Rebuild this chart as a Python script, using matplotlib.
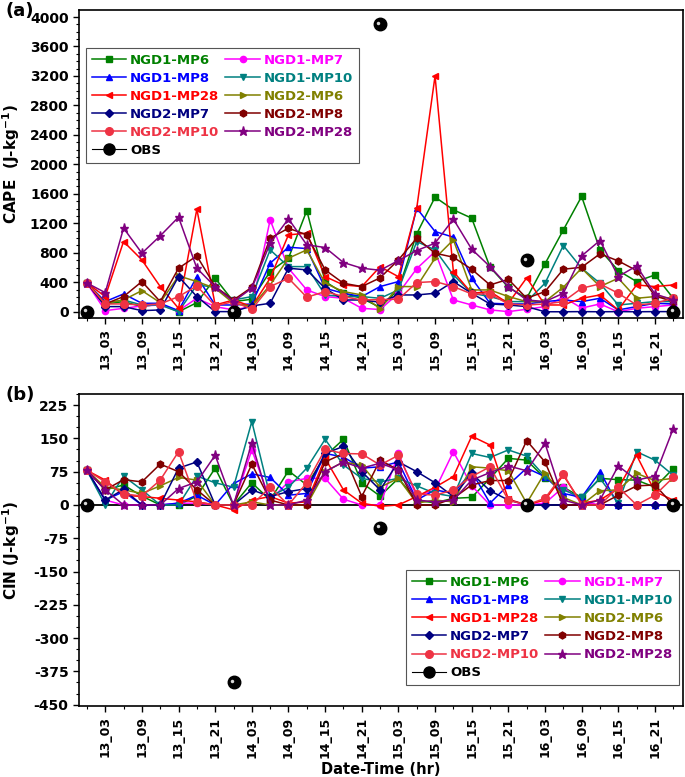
import numpy as np
import matplotlib
matplotlib.use('Agg')
import matplotlib.pyplot as plt
from matplotlib.lines import Line2D
from matplotlib.ticker import MultipleLocator
from matplotlib.transforms import offset_copy

plt.rcParams['font.family'] = 'DejaVu Sans'
plt.rcParams['font.weight'] = 'bold'
plt.rcParams['axes.unicode_minus'] = False
plt.rcParams['mathtext.default'] = 'bf'

# 3-hourly output, hours after 13_00
hours = np.arange(0, 97, 3)

names = ['NGD1-MP6', 'NGD1-MP7', 'NGD1-MP8', 'NGD1-MP10', 'NGD1-MP28',
         'NGD2-MP6', 'NGD2-MP7', 'NGD2-MP8', 'NGD2-MP10', 'NGD2-MP28']
colors = ['#008000', '#FF00FF', '#0000FF', '#008080', '#FF0000',
          '#808000', '#000080', '#800000', '#EE3344', '#800080']
markers = ['s', 'o', '^', 'v', '<', '>', 'D', 'h', 'o', '*']
msizes = [4.5, 4.5, 5, 5, 5, 5, 4, 5, 5.5, 6.5]

# CAPE (J/kg)
cape_ngd1_mp6 = [390, 106, 138, 70, 106, 0, 124, 455, 138, 170, 545, 727, 1374, 410, 251, 183, 60,
                 300, 1057, 1556, 1384, 1270, 604, 333, 183, 650, 1110, 1565, 840, 559, 410, 500, 183]
cape_ngd1_mp7 = [390, 15, 47, 79, 92, 15, 183, 70, 25, 70, 1248, 591, 296, 206, 183, 47, 30,
                 250, 585, 817, 160, 92, 25, 2, 34, 70, 200, 50, 106, 0, 47, 70, 92]
cape_ngd1_mp8 = [390, 138, 242, 115, 115, 15, 478, 92, 92, 106, 659, 876, 858, 319, 251, 206, 342,
                 410, 1406, 1089, 1012, 455, 115, 106, 106, 138, 160, 138, 183, 25, 70, 115, 106]
cape_ngd1_mp10 = [390, 115, 160, 92, 92, 0, 364, 333, 160, 206, 840, 613, 613, 228, 206, 206, 183,
                  296, 953, 840, 500, 251, 206, 138, 138, 387, 899, 591, 387, 92, 115, 138, 138]
cape_ngd1_mp28 = [390, 206, 953, 704, 342, 47, 1393, 92, 160, 70, 455, 1044, 1066, 478, 364, 342, 612,
                  476, 1406, 3200, 545, 251, 274, 115, 460, 92, 92, 183, 228, 25, 364, 342, 364]
cape_ngd2_mp6 = [390, 115, 160, 287, 124, 487, 410, 319, 115, 70, 364, 727, 840, 387, 274, 228, 40,
                 342, 342, 727, 976, 296, 296, 206, 138, 138, 333, 591, 342, 455, 183, 206, 183]
cape_ngd2_mp7 = [390, 70, 70, 15, 25, 478, 206, 2, 2, 79, 115, 591, 568, 319, 160, 160, 130,
                 228, 228, 251, 410, 251, 106, 92, 70, 0, 0, 2, 0, 2, 0, 2, 2]
cape_ngd2_mp8 = [390, 106, 206, 410, 138, 591, 758, 342, 160, 333, 998, 1134, 1044, 568, 387, 342, 460,
                 704, 998, 795, 740, 577, 364, 441, 183, 274, 577, 604, 786, 690, 559, 215, 138]
cape_ngd2_mp10 = [390, 106, 106, 92, 106, 206, 351, 79, 138, 34, 342, 455, 197, 274, 206, 160, 165,
                  170, 396, 410, 342, 242, 242, 106, 92, 106, 138, 319, 378, 251, 92, 115, 183]
cape_ngd2_mp28 = [390, 260, 1135, 795, 1030, 1284, 590, 340, 138, 320, 930, 1261, 908, 872, 668, 591, 563,
                  695, 831, 931, 1257, 849, 613, 342, 160, 138, 251, 758, 967, 478, 622, 242, 160]

# CIN (J/kg)
cin_ngd1_mp6 = [78, 34, 45, 20, 0, 0, 20, 83, 0, 50, 11, 77, 45, 110, 148, 50, 20,
                60, 10, 5, 15, 17, 60, 105, 101, 60, 40, 17, 60, 57, 56, 40, 82]
cin_ngd1_mp7 = [78, 11, 0, 0, 0, 4, 4, 0, 0, 124, 11, 52, 60, 60, 13, 0, 0,
                116, 19, 34, 120, 43, 0, 0, 0, 4, 40, 8, 0, 0, 0, 0, 0]
cin_ngd1_mp8 = [78, 11, 30, 0, 0, 4, 22, 0, 48, 70, 62, 22, 26, 116, 108, 83, 86,
                97, 11, 34, 26, 75, 4, 45, 83, 64, 26, 17, 75, 0, 0, 0, 0]
cin_ngd1_mp10 = [78, 0, 65, 34, 0, 0, 65, 50, 40, 188, 19, 40, 83, 148, 90, 60, 52,
                 60, 43, 26, 19, 116, 107, 124, 110, 64, 34, 17, 60, 4, 120, 101, 67]
cin_ngd1_mp28 = [78, 56, 22, 19, 15, 11, 7, 0, -11, 11, 19, 4, 7, 105, 34, 4, -3,
                 0, 19, 40, 64, 155, 135, 13, 0, 11, 67, 4, 11, 37, 112, 30, 11]
cin_ngd2_mp6 = [78, 40, 34, 26, 43, 62, 56, 0, 0, 7, 0, 0, 0, 75, 97, 90, 40,
                60, 4, 11, 7, 86, 83, 77, 4, 73, 17, 0, 32, 34, 71, 55, 60]
cin_ngd2_mp7 = [78, 11, 35, 0, 0, 83, 97, 0, 0, 34, 19, 30, 37, 116, 132, 75, 34,
                97, 75, 50, 19, 71, 32, 11, 0, 0, 0, 0, 0, 0, 0, 0, 0]
cin_ngd2_mp8 = [78, 34, 57, 52, 92, 75, 34, 0, 0, 92, 11, 0, 0, 97, 116, 19, 101,
                79, 0, 0, 15, 45, 55, 55, 145, 97, 0, 0, 0, 22, 43, 45, 0]
cin_ngd2_mp10 = [78, 52, 25, 20, 56, 120, 7, 0, 0, 0, 40, 0, 50, 125, 116, 115, 90,
                 112, 25, 22, 34, 64, 86, 11, 0, 15, 70, 0, 0, 40, 0, 22, 62]
cin_ngd2_mp28 = [78, 34, 0, 0, 0, 37, 52, 112, 0, 140, 0, 0, 11, 75, 97, 83, 94,
                 79, 11, 7, 11, 56, 73, 88, 77, 139, 11, 0, 11, 88, 56, 65, 172]

# observations (soundings every 24 h)
obs_hours = [0, 24, 48, 72, 96]
obs_cape = [0, 0, 3900, 700, 0]
obs_cin = [0, -400, -52, 0, 0]

cape_all = [cape_ngd1_mp6, cape_ngd1_mp7, cape_ngd1_mp8, cape_ngd1_mp10, cape_ngd1_mp28,
            cape_ngd2_mp6, cape_ngd2_mp7, cape_ngd2_mp8, cape_ngd2_mp10, cape_ngd2_mp28]
cin_all = [cin_ngd1_mp6, cin_ngd1_mp7, cin_ngd1_mp8, cin_ngd1_mp10, cin_ngd1_mp28,
           cin_ngd2_mp6, cin_ngd2_mp7, cin_ngd2_mp8, cin_ngd2_mp10, cin_ngd2_mp28]

major_hours = np.arange(3, 96, 6)
tick_labels = ['%d_%02d' % (13 + h // 24, h % 24) for h in major_hours]

fig = plt.figure(figsize=(6.85, 7.77), dpi=100)
ax1 = fig.add_axes([0.1153, 0.5907, 0.8818, 0.3964])
ax2 = fig.add_axes([0.1153, 0.0914, 0.8818, 0.4015])


def draw(ax, data, obs, leg_loc, leg_anchor):
    handles = []
    for vals, name, c, m, ms in zip(data, names, colors, markers, msizes):
        h, = ax.plot(hours, vals, color=c, marker=m, ms=ms, lw=1.1, label=name)
        handles.append(h)
    ax.plot(obs_hours, obs, ls='none', marker='o', ms=9, color='black', zorder=5)
    shine = offset_copy(ax.transData, fig=fig, x=-1.2, y=1.2, units='points')
    ax.plot(obs_hours, obs, ls='none', marker='o', ms=2.5, color='#d8d8d8',
            mec='none', transform=shine, zorder=6)
    obs_h = Line2D([], [], color='black', lw=0.8, marker='o', ms=8, label='OBS')

    order = [0, 2, 4, 6, 8]
    leg_handles = [handles[i] for i in order] + [obs_h] + [handles[i] for i in [1, 3, 5, 7, 9]]
    leg_colors = [colors[i] for i in order] + ['black'] + [colors[i] for i in [1, 3, 5, 7, 9]]
    leg = ax.legend(handles=leg_handles, ncol=2, loc=leg_loc, bbox_to_anchor=leg_anchor,
                    borderaxespad=0, fontsize=9.5, handlelength=2.6, handletextpad=0.3,
                    columnspacing=0.45, labelspacing=0.38, borderpad=0.45,
                    fancybox=False, framealpha=1, edgecolor='#555555')
    leg.get_frame().set_linewidth(0.8)
    for t, c in zip(leg.get_texts(), leg_colors):
        t.set_color(c)
        t.set_fontweight('bold')

    ax.set_xlim(-1.3, 97.6)
    ax.set_xticks(major_hours)
    ax.set_xticklabels(tick_labels, rotation=90, fontsize=9, fontweight='bold')
    ax.set_xticks(np.arange(0, 97, 6), minor=True)
    ax.tick_params(which='major', direction='out', length=4, width=1, labelsize=10)
    ax.tick_params(axis='x', which='major', labelsize=9)
    ax.tick_params(which='minor', direction='out', length=2, width=0.8)
    for lab in ax.get_yticklabels():
        lab.set_fontweight('bold')
    for sp in ax.spines.values():
        sp.set_linewidth(1.2)


draw(ax1, cape_all, obs_cape, 'upper left', (0.0116, 0.877))
ax1.set_ylim(-85, 4095)
ax1.yaxis.set_major_locator(MultipleLocator(400))
ax1.yaxis.set_minor_locator(MultipleLocator(100))
for lab in ax1.get_yticklabels():
    lab.set_fontweight('bold')
ax1.set_ylabel('CAPE  (J-kg$^{-1}$)', fontsize=11, fontweight='bold')
ax1.yaxis.set_label_coords(-0.095, 0.5)

draw(ax2, cin_all, obs_cin, 'lower right', (0.993, 0.067))
ax2.axhline(0, color='black', lw=1.3, zorder=1.5)
ax2.set_ylim(-453, 250)
ax2.yaxis.set_major_locator(MultipleLocator(75))
ax2.yaxis.set_minor_locator(MultipleLocator(25))
for lab in ax2.get_yticklabels():
    lab.set_fontweight('bold')
ax2.set_ylabel('CIN (J-kg$^{-1}$)', fontsize=11, fontweight='bold')
ax2.yaxis.set_label_coords(-0.095, 0.5)
ax2.set_xlabel('Date-Time (hr)', fontsize=10.5, fontweight='bold', labelpad=3)

fig.text(0.008, 0.997, '(a)', fontsize=13, fontweight='bold', va='top')
fig.text(0.008, 0.503, '(b)', fontsize=13, fontweight='bold', va='top')

fig.savefig('out.png', dpi=100)
